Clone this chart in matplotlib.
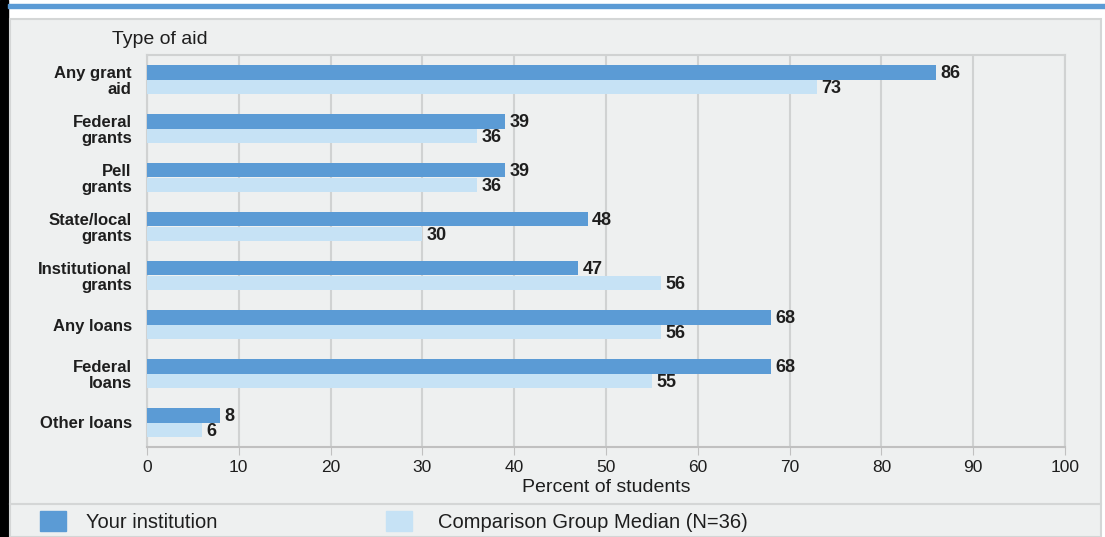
import matplotlib.pyplot as plt
import numpy as np
from matplotlib.patches import Rectangle

plt.rcParams['font.family'] = ['Liberation Sans', 'DejaVu Sans']

categories = ["Any grant\naid", "Federal\ngrants", "Pell\ngrants", "State/local\ngrants",
              "Institutional\ngrants", "Any loans", "Federal\nloans", "Other loans"]
your_inst = [86, 39, 39, 48, 47, 68, 68, 8]
comparison = [73, 36, 36, 30, 56, 56, 55, 6]

dark = "#5b9bd5"
light = "#c6e2f5"
bg = "#eef0f0"
txt = "#1e1e1e"

W, H = 1105, 537
fig = plt.figure(figsize=(W / 100, H / 100), dpi=100)
fig.patch.set_facecolor("white")

# frame pieces
fig.add_artist(Rectangle((0, 0), 8 / W, 1, transform=fig.transFigure, color="black", zorder=0))
fig.add_artist(Rectangle((8 / W, 1 - 8 / H), 1, 4 / H, transform=fig.transFigure, color=dark, zorder=0))
fig.add_artist(Rectangle((10 / W, 0), 1 - 14 / W, (H - 19) / H, transform=fig.transFigure,
                         facecolor=bg, edgecolor="#d4d6d6", lw=1.5, zorder=0))
fig.add_artist(plt.Line2D([10 / W, 1 - 4 / W], [1 - 504 / H] * 2, transform=fig.transFigure,
                          color="#d4d6d6", lw=1.5))

ax = fig.add_axes([147 / W, 1 - 447 / H, (1065 - 147) / W, (447 - 55) / H])
ax.set_facecolor(bg)

y = np.arange(len(categories))
h = 0.29
ax.barh(y - h / 2, your_inst, height=h, color=dark, zorder=3)
ax.barh(y + h / 2, comparison, height=h, color=light, zorder=3)

for i, (a, b) in enumerate(zip(your_inst, comparison)):
    ax.text(a + 0.45, i - h / 2 + 0.02, str(a), va="center", ha="left", fontsize=13,
            fontweight="bold", color=txt)
    ax.text(b + 0.45, i + h / 2 + 0.04, str(b), va="center", ha="left", fontsize=13,
            fontweight="bold", color=txt)

ax.set_xlim(0, 100)
ax.set_ylim(len(categories) - 0.5, -0.5)
ax.set_xticks(range(0, 101, 10))
ax.set_yticks(y)
ax.set_yticklabels(categories, fontsize=12, fontweight="bold", color=txt,
                   linespacing=1.05)
ax.tick_params(axis="y", length=0, pad=11)
ax.tick_params(axis="x", length=6, color="#c0c0c0", labelsize=12.5, pad=3, labelcolor=txt)
ax.grid(axis="x", color="#d0d2d2", lw=1.5, zorder=0)
for s in ["top", "right", "left"]:
    ax.spines[s].set_color("#d0d2d2")
    ax.spines[s].set_linewidth(1.5)
ax.spines["bottom"].set_color("#c0c0c0")
ax.spines["bottom"].set_linewidth(1.5)
ax.set_xlabel("Percent of students", fontsize=14, color=txt, labelpad=3)

fig.text(112 / W, 1 - 39 / H, "Type of aid", fontsize=14, color=txt, va="center")

# legend
fig.add_artist(Rectangle((40 / W, 1 - 531 / H), 26 / W, 20 / H, transform=fig.transFigure,
                         color=dark))
fig.text(86 / W, 1 - 522 / H, "Your institution", fontsize=14.5, va="center", color=txt)
fig.add_artist(Rectangle((386 / W, 1 - 531 / H), 26 / W, 20 / H, transform=fig.transFigure,
                         color=light))
fig.text(438 / W, 1 - 522 / H, "Comparison Group Median (N=36)", fontsize=14.5, va="center",
         color=txt)

fig.savefig("out.png", dpi=100, facecolor=fig.get_facecolor())
